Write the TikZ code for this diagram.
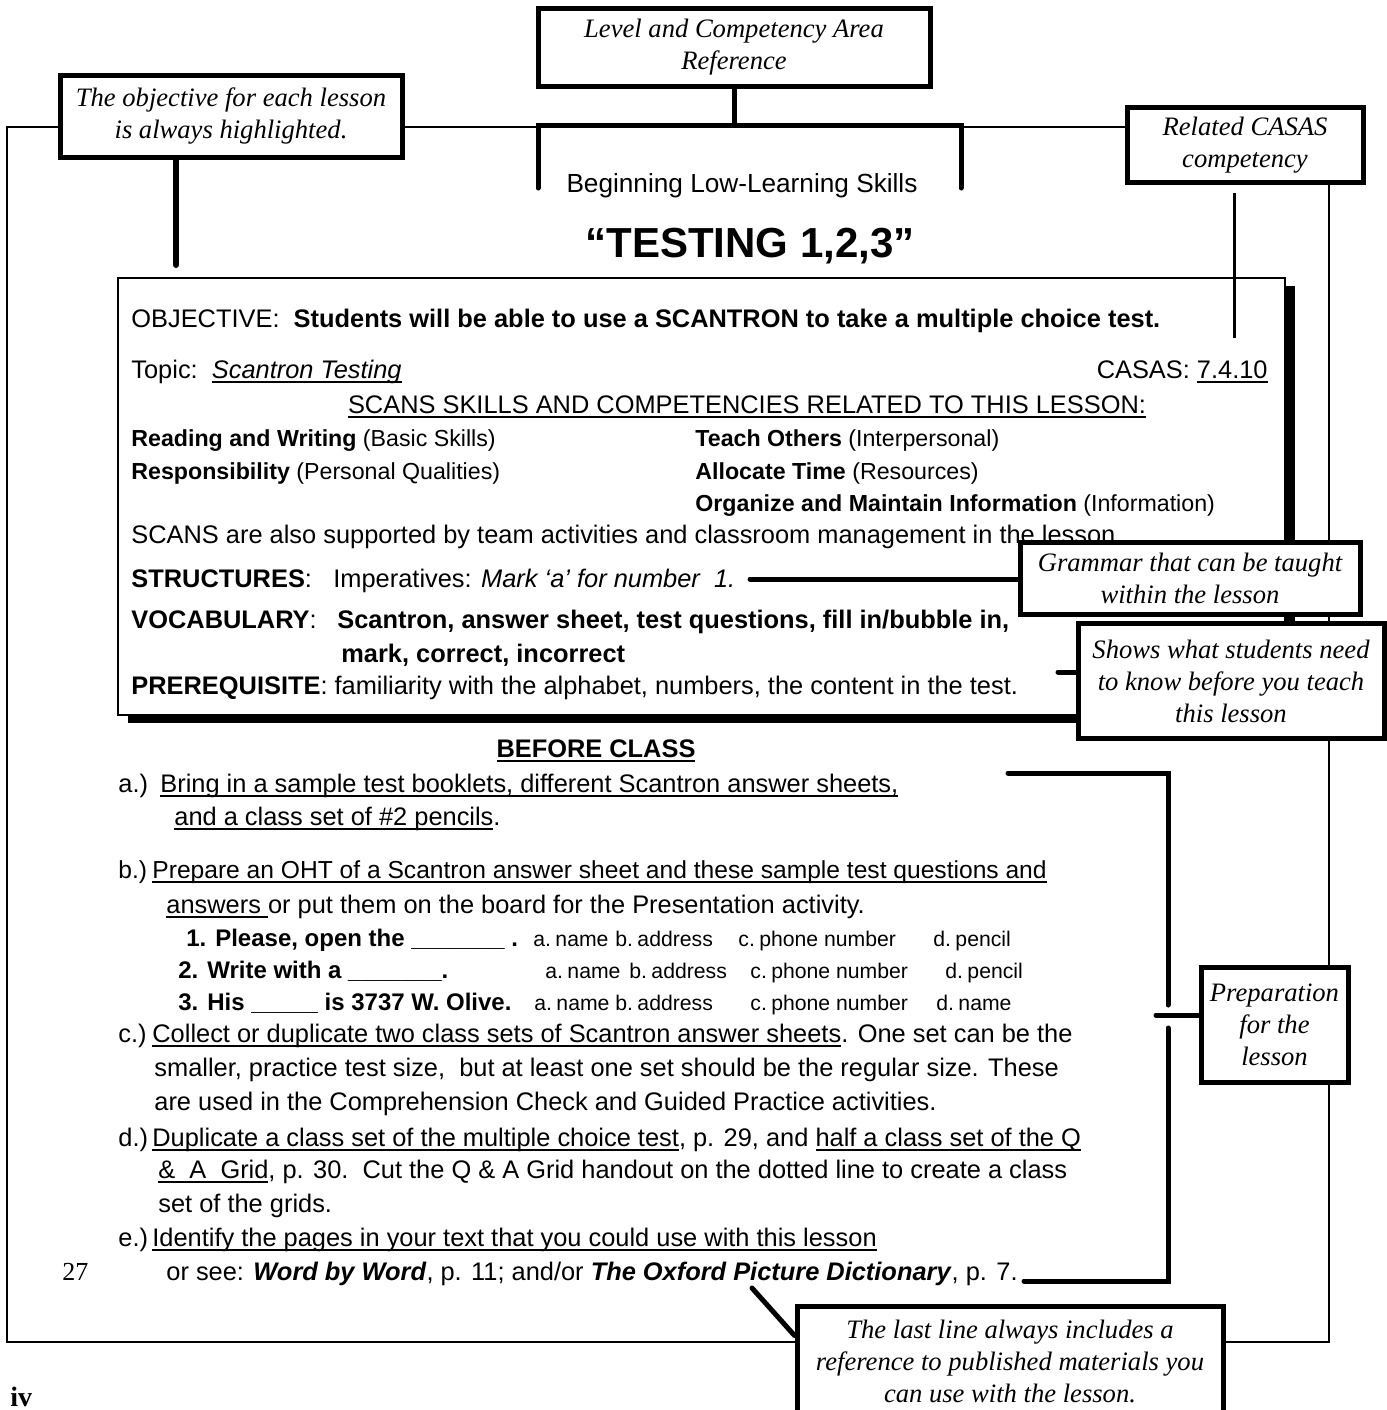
\documentclass[tikz,border=0pt]{standalone}
\usepackage{fontspec}
\setmainfont{Liberation Sans}
\newfontfamily\cserif{Liberation Serif}
\usetikzlibrary{calc}
\newsavebox\ulbox
\newcommand\myul[1]{\sbox\ulbox{#1}\rlap{\rule[-2.4pt]{\wd\ulbox}{0.8pt}}\usebox\ulbox}
\newcommand\ch[2]{#1.\kern2.2pt #2}
\begin{document}
\begin{tikzpicture}[x=0.5pt,y=-0.5pt,
  callout/.style={draw, line width=2.5pt, fill=white, align=center, inner sep=0pt,
    font=\cserif\itshape\fontsize{13.3}{16}\selectfont},
  body/.style={anchor=base west, inner sep=0pt, font=\fontsize{12.7}{15}\selectfont},
  small/.style={anchor=base west, inner sep=0pt, font=\fontsize{11.6}{14}\selectfont},
  quest/.style={anchor=base west, inner sep=0pt, font=\bfseries\fontsize{12}{14}\selectfont},
  choice/.style={anchor=base west, inner sep=0pt, font=\fontsize{10.6}{13}\selectfont},
  lead/.style={line width=2.5pt, line cap=round},
  frame/.style={line width=1pt},
]
\useasboundingbox (0,0) rectangle (1387,1410);
% outer frame
\draw[frame] (7,127) rectangle (1329,1342);
% main box with shadow
\fill (1286,286) rectangle (1295,723);
\fill (128,715) rectangle (1295,723);
\draw[line width=1pt, fill=white] (118,278) rectangle (1285,715);

% header
\node[anchor=base, inner sep=0pt, font=\fontsize{13.1}{15}\selectfont] (lvltxt) at (742,192) {Beginning Low-Learning Skills};
\node[anchor=base, inner sep=0pt, font=\bfseries\fontsize{21}{24}\selectfont] (title) at (750,257) {“TESTING 1,2,3”};

% main box text
\node[body] (objl) at (131,327) {OBJECTIVE:\ \ \textbf{Students will be able to use a SCANTRON to take a multiple choice test.}};
\node[body] (topic) at (131,378) {Topic:\ \ \myul{\textit{Scantron Testing}}};
\node[body, anchor=base east] (casasl) at (1268,378) {CASAS: \myul{7.4.10}};
\node[body, anchor=base] (scans) at (747,413) {\myul{SCANS SKILLS AND COMPETENCIES RELATED TO THIS LESSON:}};
\node[small] (s1) at (131,446) {\textbf{Reading and Writing} (Basic Skills)};
\node[small] (s2) at (695,446) {\textbf{Teach Others} (Interpersonal)};
\node[small] (s3) at (131,479) {\textbf{Responsibility} (Personal Qualities)};
\node[small] (s4) at (695,479) {\textbf{Allocate Time} (Resources)};
\node[small] (s5) at (695,511) {\textbf{Organize and Maintain Information} (Information)};
\node[body] (also) at (131,543) {SCANS are also supported by team activities and classroom management in the lesson.};
\node[body] (strl) at (131,587) {\textbf{STRUCTURES}:};
\node[body] (strt) at (333,587) {Imperatives: \textit{Mark ‘a’ for number\ \ 1.}};
\node[body] (vocl) at (131,628) {\textbf{VOCABULARY}:};
\node[body] (voct) at (337,628) {\textbf{Scantron, answer sheet, test questions, fill in/bubble in,}};
\node[body] (voct2) at (341,662) {\textbf{mark, correct, incorrect}};
\node[body] (prer) at (131,694) {\textbf{PREREQUISITE}: familiarity with the alphabet, numbers, the content in the test.};

% before class
\node[body, anchor=base] (before) at (596,757) {\myul{\textbf{BEFORE CLASS}}};
\node[body] (ia) at (118,792) {a.)};
\node[body] (ia1) at (160,792) {\myul{Bring in a sample test booklets, different Scantron answer sheets,}};
\node[body] (ia2) at (174,825) {\myul{and a class set of \#2 pencils}.};
\node[body, font=\fontsize{12.3}{15}\selectfont] (ib) at (118,878) {b.)};
\node[body, font=\fontsize{12.3}{15}\selectfont] (ib1) at (152,878) {\myul{Prepare an OHT of a Scantron answer sheet and these sample test questions and}};
\node[body] (ib2) at (166,913) {\myul{answers }or put them on the board for the Presentation activity.};
\node[quest] (q1) at (186,946) {1. Please, open the \_\_\_\_\_\_\_ .};
\node[quest] (q2) at (178,978) {2. Write with a \_\_\_\_\_\_\_.};
\node[quest] (q3) at (178,1010) {3. His \_\_\_\_\_ is 3737 W. Olive.};
\node[choice] (q1a) at (533,946) {\ch{a}{name}};
\node[choice] (q1b) at (615,946) {\ch{b}{address}};
\node[choice] (q1c) at (738,946) {\ch{c}{phone number}};
\node[choice] (q1d) at (933,946) {\ch{d}{pencil}};
\node[choice] (q2a) at (545,978) {\ch{a}{name}};
\node[choice] (q2b) at (629,978) {\ch{b}{address}};
\node[choice] (q2c) at (750,978) {\ch{c}{phone number}};
\node[choice] (q2d) at (945,978) {\ch{d}{pencil}};
\node[choice] (q3a) at (534,1010) {\ch{a}{name}};
\node[choice] (q3b) at (615,1010) {\ch{b}{address}};
\node[choice] (q3c) at (750,1010) {\ch{c}{phone number}};
\node[choice] (q3d) at (936,1010) {\ch{d}{name}};
\node[body] (ic) at (118,1042) {c.)};
\node[body] (ic1) at (152,1042) {\myul{Collect or duplicate two class sets of Scantron answer sheets}. One set can be the};
\node[body] (ic2) at (154,1076) {smaller, practice test size,\ \ but at least one set should be the regular size. These};
\node[body] (ic3) at (154,1110) {are used in the Comprehension Check and Guided Practice activities.};
\node[body] (id) at (118,1146) {d.)};
\node[body] (id1) at (152,1146) {\myul{Duplicate a class set of the multiple choice test}, p. 29, and \myul{half a class set of the Q}};
\node[body] (id2) at (158,1178) {\myul{\&\ \ A\ \ Grid}, p. 30.\ \ Cut the Q \& A Grid handout on the dotted line to create a class};
\node[body] (id3) at (158,1212) {set of the grids.};
\node[body] (ie) at (118,1246) {e.)};
\node[body] (ie1) at (152,1246) {\myul{Identify the pages in your text that you could use with this lesson}};
\node[body] (ie2) at (166,1280) {or see: \textbf{\textit{Word by Word}}, p. 11; and/or \textbf{\textit{The Oxford Picture Dictionary}}, p. 7.};
\node[anchor=base west, inner sep=0pt, font=\cserif\fontsize{13}{15}\selectfont] (pg27) at (62,1280) {27};
\node[anchor=base west, inner sep=0pt, font=\cserif\bfseries\fontsize{14}{16}\selectfont] (pgiv) at (10,1406) {iv};

% callouts
\node[callout, minimum width=196pt, minimum height=39pt] (lvl) at (734,47) {Level and Competency Area\\Reference};
\node[callout, minimum width=171pt, minimum height=41pt] (obj) at (231,116) {The objective for each lesson\\is always highlighted.};
\node[callout, minimum width=118pt, minimum height=37.5pt] (casas) at (1245,145) {Related CASAS\\competency};
\node[callout, minimum width=170pt, minimum height=36pt] (gram) at (1190,578) {Grammar that can be taught\\within the lesson};
\node[callout, minimum width=153pt, minimum height=57.5pt] (shows) at (1231,681) {Shows what students need\\to know before you teach\\this lesson};
\node[callout, minimum width=73.5pt, minimum height=57.5pt] (prep) at (1274.5,1025) {Preparation\\for the\\lesson};
\node[callout, minimum width=213pt, minimum height=55pt] (last) at (1010,1361) {The last line always includes a\\reference to published materials you\\can use with the lesson.};

% connectors
\coordinate (brL) at (538,188);
\coordinate (brLt) at (538,125);
\coordinate (brRt) at (961,125);
\coordinate (brR) at (961,188);
\draw[lead] (brL) -- (brLt) -- (brRt) -- (brR);
\draw[lead] (lvl.south) -- (lvl.south |- brLt);
\coordinate (objEnd) at (176,265);
\draw[lead, line width=3pt] (objEnd |- obj.south) -- (objEnd);
\coordinate (casEnd) at (1234,338);
\draw[line width=1.5pt] ($(casas.south -| casEnd)+(0,8)$) -- (casEnd);
\coordinate (gramStart) at (750,579);
\draw[lead] (gramStart) -- (gramStart -| gram.west);
\coordinate (showStart) at (1058,672);
\draw[lead] (showStart) -- (showStart -| shows.west);
\coordinate (pa) at (1008,773);
\coordinate (pb) at (1168,773);
\coordinate (pc) at (1168,1005);
\coordinate (pd) at (1168,1028);
\coordinate (pe) at (1168,1281);
\coordinate (pf) at (1024,1281);
\coordinate (pm) at (1156,1015);
\draw[lead] (pa) -- (pb) -- (pc);
\draw[lead] (pd) -- (pe) -- (pf);
\draw[lead] (pm) -- (pm -| prep.west);
\coordinate (lastStart) at (752,1288);
\draw[lead] (lastStart) -- ([yshift=-16pt]last.north west);
\end{tikzpicture}
\end{document}
